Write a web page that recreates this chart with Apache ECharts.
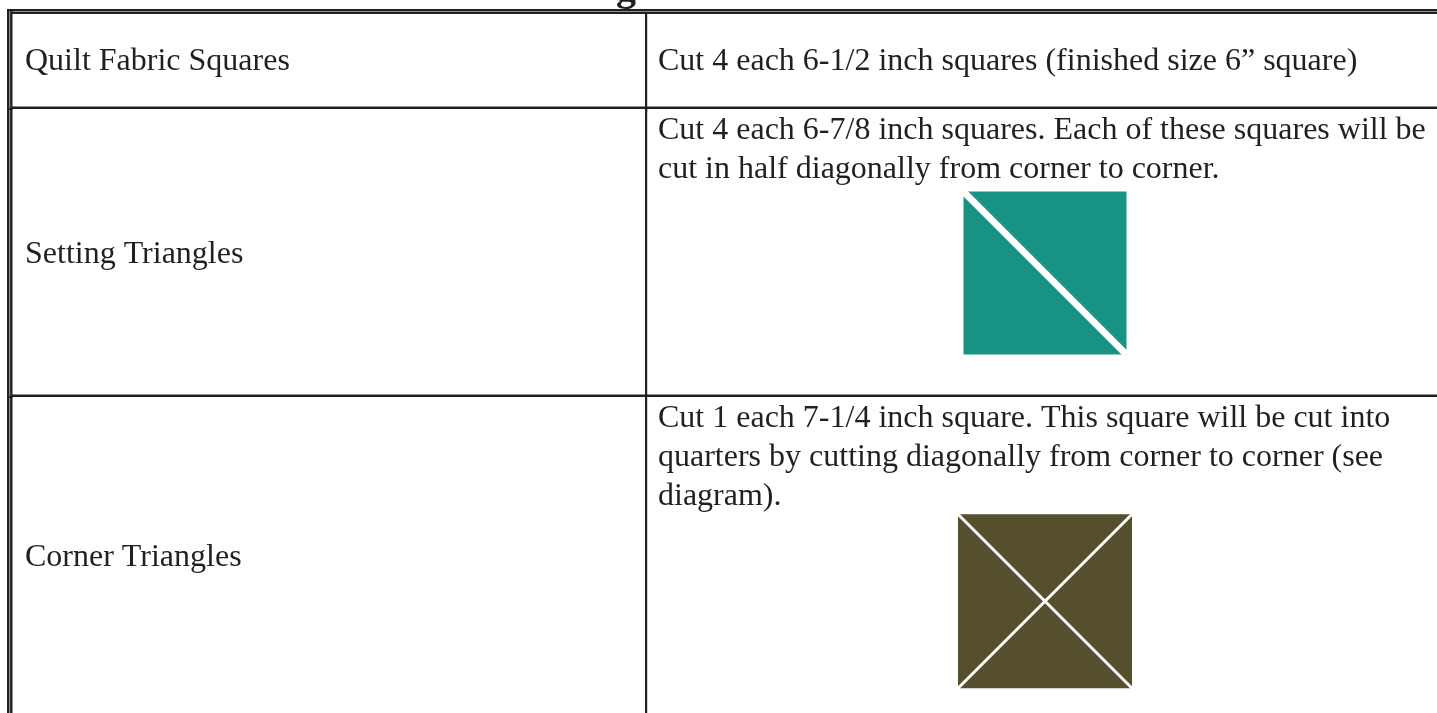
<!DOCTYPE html>
<html>
<head>
<meta charset="utf-8">
<title>Cutting table</title>
<script src="https://cdn.jsdelivr.net/npm/echarts@6/dist/echarts.min.js"></script>
<style>
  html, body { margin: 0; padding: 0; background: #fff; }
  #main { width: 1437px; height: 713px; }
</style>
</head>
<body>
<div id="main"></div>
<script>
// table content
var rowLabels = ['Quilt Fabric Squares', 'Setting Triangles', 'Corner Triangles'];
var rowNotes = [
    ['Cut 4 each 6-1/2 inch squares (finished size 6\u201d square)'],
    ['Cut 4 each 6-7/8 inch squares. Each of these squares will be',
        'cut in half diagonally from corner to corner.'],
    ['Cut 1 each 7-1/4 inch square. This square will be cut into',
        'quarters by cutting diagonally from corner to corner (see',
        'diagram).']
];
var rowCuts = ['none', 'half', 'quarters'];
var rowFabric = ['', '#169383', '#554f2e'];

// layout (pixels on the hidden axes)
var rowEdges = [9, 108, 396, 713];
var colX = 646, tableLeft = 7, tableRight = 1444;
var diagramSize = [0, 163, 174];
var ink = '#231f20';
var font = '32px "Liberation Serif", "Times New Roman", serif';

var myChart = echarts.init(document.getElementById('main'));

function rect(x, y, w, h, fill) {
    return { type: 'rect', shape: { x: x, y: y, width: w, height: h }, style: { fill: fill }, silent: true };
}

function renderRow(params, api) {
    var i = api.value(0);
    var p0 = api.coord([tableLeft, rowEdges[i]]);
    var p1 = api.coord([tableRight, rowEdges[i + 1]]);
    var cx = api.coord([colX, 0])[0];
    var top = p0[1], bottom = p1[1];
    var kids = [];

    // borders
    if (i === 0) {
        kids.push(rect(p0[0], top, p1[0] - p0[0] + 10, 5, ink));
        kids.push(rect(p0[0], top + 2, p1[0] - p0[0] + 10, 1, '#8c8c8c'));
    } else {
        kids.push(rect(p0[0] + 5, top - 1.5, p1[0] - p0[0], 2.5, ink));
    }
    kids.push(rect(p0[0], top, 5.5, bottom - top + 2, ink));
    kids.push(rect(p0[0] + 2, top + 2, 1.2, bottom - top + 2, '#8c8c8c'));
    kids.push(rect(cx - 1, top + (i === 0 ? 4 : 0), 2.2, bottom - top, ink));

    // left label, centred in the row
    kids.push({
        type: 'text', silent: true,
        style: { x: p0[0] + 18, y: (top + bottom) / 2 + 3, text: rowLabels[i], font: font, fill: ink, verticalAlign: 'middle' }
    });

    // notes
    var lineH = 38.6;
    var firstY = rowNotes[i].length === 1 ? (top + bottom) / 2 + 3 : top + 23;
    rowNotes[i].forEach(function (line, k) {
        kids.push({
            type: 'text', silent: true,
            style: { x: cx + 12, y: firstY + k * lineH, text: line, font: font, fill: ink, verticalAlign: 'middle' }
        });
    });

    // cutting diagram
    if (rowCuts[i] !== 'none') {
        var s = diagramSize[i];
        var mx = (cx + p1[0]) / 2;
        var ty = firstY + (rowNotes[i].length - 1) * lineH + (rowCuts[i] === 'half' ? 22 : 18);
        var x0 = mx - s / 2, x1 = mx + s / 2, y0 = ty, y1 = ty + s;
        kids.push(rect(x0, y0, s, s, rowFabric[i]));
        var cut = { stroke: '#fff', lineWidth: rowCuts[i] === 'half' ? 7 : 3 };
        kids.push({ type: 'line', silent: true, shape: { x1: x0, y1: y0, x2: x1, y2: y1 }, style: cut });
        if (rowCuts[i] === 'quarters') {
            kids.push({ type: 'line', silent: true, shape: { x1: x1, y1: y0, x2: x0, y2: y1 }, style: cut });
        }
    }
    return { type: 'group', children: kids };
}

var option = {
    animation: false,
    backgroundColor: '#fff',
    grid: { left: 0, right: 0, top: 0, bottom: 0 },
    xAxis: { type: 'value', min: 0, max: 1437, show: false },
    yAxis: { type: 'value', min: 0, max: 713, inverse: true, show: false },
    graphic: [{
        // bottom of the cut-off heading above the table
        type: 'text', left: 616, top: -30, silent: true,
        style: { text: 'g', font: 'bold 40px "Liberation Serif", serif', fill: ink }
    }],
    series: [{
        type: 'custom',
        clip: false,
        renderItem: renderRow,
        data: rowLabels.map(function (l, i) { return [i]; })
    }]
};

myChart.setOption(option);
window.addEventListener('resize', function () {
    myChart.resize();
});
</script>
</body>
</html>
